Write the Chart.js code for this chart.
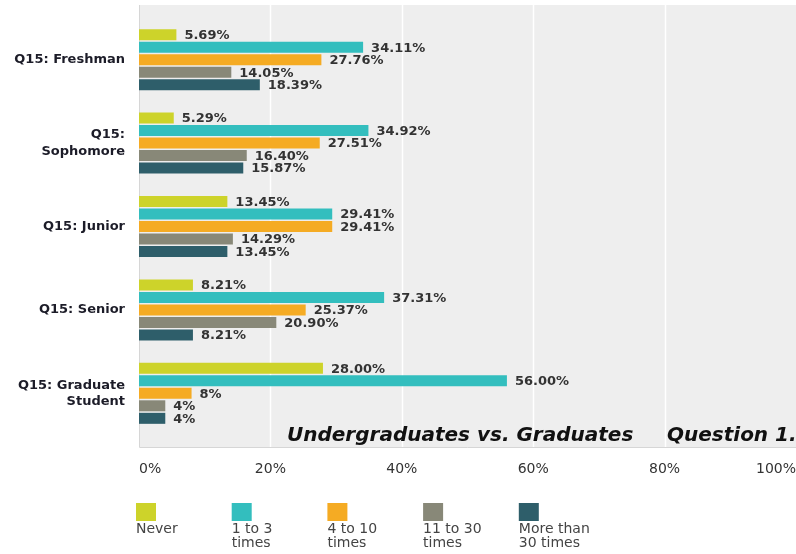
<!DOCTYPE html>
<html>
<head>
<meta charset="utf-8">
<script src="https://cdn.jsdelivr.net/npm/chart.js@4"></script>
<style>
  body { margin: 0; background: #fff; }
  #wrap { width: 796px; height: 554px; position: relative; }
</style>
</head>
<body>
<div id="wrap"><canvas id="graf"></canvas></div>
<script>
// categories (multi-line labels)
const categories = [
    ['Q15: Freshman'],
    ['Q15:', 'Sophomore'],
    ['Q15: Junior'],
    ['Q15: Senior'],
    ['Q15: Graduate', 'Student']
];

// series values (%)
const never       = [5.69, 5.29, 13.45, 8.21, 28.00];
const oneToThree  = [34.11, 34.92, 29.41, 37.31, 56.00];
const fourToTen   = [27.76, 27.51, 29.41, 25.37, 8];
const elevenToThirty = [14.05, 16.40, 14.29, 20.90, 4];
const moreThanThirty = [18.39, 15.87, 13.45, 8.21, 4];

const seriesNames = ['Never', '1 to 3 times', '4 to 10 times', '11 to 30 times', 'More than 30 times'];
const legendLines = [['Never'], ['1 to 3', 'times'], ['4 to 10', 'times'], ['11 to 30', 'times'], ['More than', '30 times']];
const colors = ['#cdd32a', '#33bebe', '#f5ab23', '#888878', '#2e5e6a'];
const tickValues = [0, 20, 40, 60, 80, 100];

const FONT = '"DejaVu Sans", sans-serif';

// formát popisku: celé malé hodnoty bez desetin
function fmt(v) {
    if (Number.isInteger(v) && v < 10) return v + '%';
    return v.toFixed(2) + '%';
}

// pozadí grafu, mřížka, popisky hodnot, titulek a legenda
const kresba = {
    id: 'kresba',
    beforeDatasetsDraw(chart) {
        const { ctx, chartArea } = chart;
        const xs = chart.scales.x;
        ctx.save();
        ctx.fillStyle = '#eeeeee';
        ctx.fillRect(chartArea.left, 5, chartArea.right - chartArea.left, 442);
        // svislé čáry mřížky přes celé pozadí
        ctx.strokeStyle = '#ffffff';
        ctx.lineWidth = 1.5;
        tickValues.slice(1, -1).forEach(v => {
            const px = Math.round(xs.getPixelForValue(v)) + 0.5;
            ctx.beginPath();
            ctx.moveTo(px, 5);
            ctx.lineTo(px, 447);
            ctx.stroke();
        });
        ctx.strokeStyle = '#d6d6d6';
        ctx.lineWidth = 1;
        ctx.beginPath();
        ctx.moveTo(chartArea.left + 0.5, 5);
        ctx.lineTo(chartArea.left + 0.5, 447.5);
        ctx.lineTo(chartArea.right, 447.5);
        ctx.stroke();
        ctx.restore();
    },
    afterDatasetsDraw(chart) {
        const { ctx } = chart;
        ctx.save();
        ctx.font = 'bold 13px ' + FONT;
        ctx.fillStyle = '#333333';
        ctx.textAlign = 'left';
        ctx.textBaseline = 'middle';
        chart.data.datasets.forEach((ds, i) => {
            chart.getDatasetMeta(i).data.forEach((bar, j) => {
                ctx.fillText(fmt(ds.data[j]), bar.x + 8, bar.y + 1);
            });
        });
        ctx.restore();
    },
    afterDraw(chart) {
        const { ctx } = chart;
        ctx.save();
        // titulek
        ctx.font = 'italic bold 20px ' + FONT;
        ctx.fillStyle = '#111111';
        ctx.textBaseline = 'alphabetic';
        ctx.textAlign = 'left';
        ctx.fillText('Undergraduates vs. Graduates', 287, 441);
        ctx.fillText('Question 1.', 667, 441);
        // legenda
        ctx.font = '14px ' + FONT;
        ctx.textBaseline = 'middle';
        chart.data.datasets.forEach((ds, i) => {
            const x = 136 + i * 95.7;
            ctx.fillStyle = ds.backgroundColor;
            ctx.fillRect(x, 503, 20, 18);
            ctx.fillStyle = '#444444';
            legendLines[i].forEach((line, k) => {
                ctx.fillText(line, x, 529 + k * 14.5);
            });
        });
        ctx.restore();
    }
};

const seriesData = [never, oneToThree, fourToTen, elevenToThirty, moreThanThirty];

new Chart(document.getElementById('graf'), {
    type: 'bar',
    data: {
        labels: categories,
        datasets: seriesData.map((d, i) => ({
            label: seriesNames[i],
            data: d,
            backgroundColor: colors[i],
            borderWidth: 0,
            categoryPercentage: 0.75,
            barPercentage: 0.88
        }))
    },
    options: {
        indexAxis: 'y',
        responsive: true,
        maintainAspectRatio: false,
        animation: false,
        layout: { padding: { top: 18, left: 0, right: 0, bottom: 0 } },
        plugins: {
            legend: { display: false },
            tooltip: { enabled: false }
        },
        scales: {
            x: {
                min: 0,
                max: 100,
                afterBuildTicks: (scale) => { scale.ticks = tickValues.map(v => ({ value: v })); },
                afterFit: (scale) => {
                    scale.height = 119;
                    scale.paddingLeft = 0;
                    scale.paddingRight = 0;
                },
                grid: { display: false, drawTicks: false },
                border: { display: false },
                ticks: {
                    align: 'inner',
                    padding: 26,
                    color: '#333333',
                    font: { family: FONT, size: 14 },
                    callback: (v) => v + '%'
                }
            },
            y: {
                afterFit: (scale) => {
                    scale.width = 139;
                    scale.paddingTop = 0;
                    scale.paddingBottom = 0;
                },
                grid: { display: false, drawTicks: false },
                border: { display: false },
                ticks: {
                    padding: 14,
                    color: '#1c1c28',
                    font: { family: FONT, size: 13, weight: 'bold', lineHeight: 1.25 }
                }
            }
        }
    },
    plugins: [kresba]
});
</script>
</body>
</html>
